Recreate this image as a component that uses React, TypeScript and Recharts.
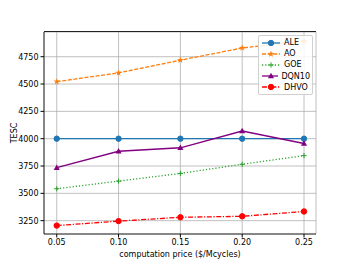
import { CartesianGrid, Line, LineChart, XAxis, YAxis } from "recharts";

const prices = [0.05, 0.1, 0.15, 0.2, 0.25];
const ale = [4000, 4000, 4000, 4000, 4000];
const ao = [4522, 4602, 4718, 4830, 4893];
const goe = [3542, 3612, 3682, 3766, 3845];
const dqn10 = [3735, 3885, 3917, 4070, 3956];
const dhvo = [3205, 3246, 3281, 3290, 3334];
const yTicks = [3250, 3500, 3750, 4000, 4250, 4500, 4750];

const data = prices.map((p, i) => ({
  price: p,
  ALE: ale[i],
  AO: ao[i],
  GOE: goe[i],
  DQN10: dqn10[i],
  DHVO: dhvo[i],
}));

type Shape = "circle" | "star" | "plus" | "triangle";

function marker(shape: Shape, cx: number, cy: number, color: string, key?: string) {
  if (shape === "circle") return <circle key={key} cx={cx} cy={cy} r={2.7} fill={color} stroke={color} />;
  if (shape === "triangle") {
    const r = 3.2;
    return (
      <path
        key={key}
        d={`M${cx},${cy - r} L${cx + r * 0.95},${cy + r * 0.7} L${cx - r * 0.95},${cy + r * 0.7} Z`}
        fill={color}
      />
    );
  }
  if (shape === "plus") {
    const r = 2.6;
    return (
      <path key={key} d={`M${cx - r},${cy} H${cx + r} M${cx},${cy - r} V${cy + r}`} stroke={color} strokeWidth={1} />
    );
  }
  const pts: string[] = [];
  for (let k = 0; k < 10; k++) {
    const a = -Math.PI / 2 + (k * Math.PI) / 5;
    const r = k % 2 === 0 ? 3.4 : 1.4;
    pts.push(`${cx + r * Math.cos(a)},${cy + r * Math.sin(a)}`);
  }
  return <polygon key={key} points={pts.join(" ")} fill={color} />;
}

const series: { key: string; color: string; dash?: string; shape: Shape }[] = [
  { key: "ALE", color: "#1f77b4", shape: "circle" },
  { key: "AO", color: "#ff7f0e", dash: "4 1.6", shape: "star" },
  { key: "GOE", color: "#2ca02c", dash: "1.2 2", shape: "plus" },
  { key: "DQN10", color: "#800080", shape: "triangle" },
  { key: "DHVO", color: "#ff0000", dash: "5 1.6 1.2 1.6", shape: "circle" },
];

function LegendBox() {
  return (
    <div
      style={{
        position: "absolute",
        left: 258,
        top: 35,
        width: 55,
        boxSizing: "border-box",
        background: "rgba(255,255,255,0.85)",
        border: "1px solid #d0d0d0",
        borderRadius: 2,
        padding: "1px 2px",
        fontFamily: "DejaVu Sans",
        fontSize: 8,
        lineHeight: "11.2px",
        color: "#000",
      }}
    >
      {series.map((s) => (
        <div key={s.key} style={{ display: "flex", alignItems: "center", height: 11.2 }}>
          <svg width={20} height={10} style={{ marginRight: 3 }}>
            <line x1={1} y1={5} x2={19} y2={5} stroke={s.color} strokeWidth={1.3} strokeDasharray={s.dash} />
            {marker(s.shape, 10, 5, s.color)}
          </svg>
          <span>{s.key}</span>
        </div>
      ))}
    </div>
  );
}

export default function App() {
  const tick = { fill: "#000", fontSize: 8, fontFamily: "DejaVu Sans" };
  return (
    <div style={{ position: "absolute", left: 0, top: 0, width: 352, height: 264, background: "#fff" }}>
      <LineChart width={352} height={264} data={data} margin={{ top: 32, right: 36, left: 0, bottom: 0 }}>
        <CartesianGrid stroke="#b0b0b0" strokeWidth={0.8} />
        <XAxis
          dataKey="price"
          type="number"
          domain={[0.0397, 0.2597]}
          ticks={prices}
          tickFormatter={(v: number) => v.toFixed(2)}
          tick={tick}
          tickLine={{ stroke: "#000" }}
          tickSize={3.5}
          axisLine={{ stroke: "#000", strokeWidth: 0.8 }}
          height={30}
          label={{ value: "computation price ($/Mcycles)", position: "insideBottom", offset: 7, fill: "#000", fontSize: 8, fontFamily: "DejaVu Sans" }}
        />
        <YAxis
          type="number"
          domain={[3128, 4976]}
          ticks={yTicks}
          tick={tick}
          tickLine={{ stroke: "#000" }}
          tickSize={3.5}
          axisLine={{ stroke: "#000", strokeWidth: 0.8 }}
          width={44}
          allowDataOverflow
          label={{ value: "TESC", angle: -90, position: "insideLeft", offset: 14, fill: "#000", fontSize: 8, fontFamily: "DejaVu Sans", style: { textAnchor: "middle" } }}
        />
        <YAxis yAxisId="right" orientation="right" domain={[3128, 4976]} tick={false} tickLine={false} width={0} axisLine={{ stroke: "#000", strokeWidth: 0.8 }} />
        {series.map((s) => (
          <Line
            key={s.key}
            dataKey={s.key}
            stroke={s.color}
            strokeWidth={1.3}
            strokeDasharray={s.dash}
            isAnimationActive={false}
            dot={(p: any) => marker(s.shape, p.cx, p.cy, s.color, `${s.key}-${p.index}`)}
            activeDot={false}
          />
        ))}
      </LineChart>
      <div style={{ position: "absolute", left: 44, top: 31, width: 272, height: 1, background: "#222" }} />
      <LegendBox />
    </div>
  );
}
